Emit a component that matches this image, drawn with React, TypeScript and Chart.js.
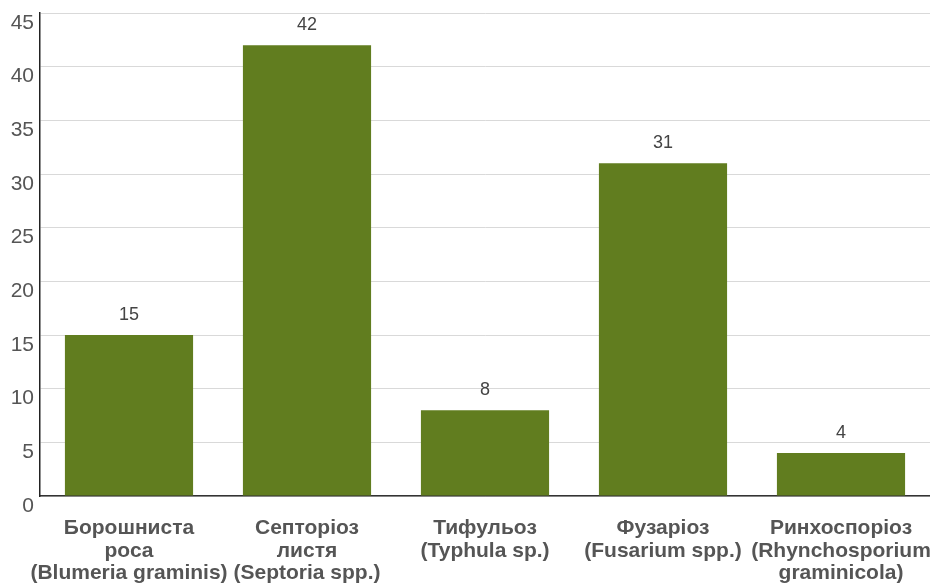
import React, { useEffect, useRef } from "react";
import { Chart, registerables } from "chart.js";

Chart.register(...registerables);

const categories: string[][] = [
  ["Борошниста", "роса", "(Blumeria graminis)"],
  ["Септоріоз", "листя", "(Septoria spp.)"],
  ["Тифульоз", "(Typhula sp.)"],
  ["Фузаріоз", "(Fusarium spp.)"],
  ["Ринхоспоріоз", "(Rhynchosporium", "graminicola)"],
];
const values: number[] = [15, 42, 8, 31, 4];
const yMax = 45;
const yStep = 5;

const FONT = '"Liberation Sans", Arial, sans-serif';

const valueLabels = {
  id: "valueLabels",
  afterDatasetsDraw(chart: any) {
    const ctx = chart.ctx;
    const meta = chart.getDatasetMeta(0);
    ctx.save();
    ctx.font = "18px " + FONT;
    ctx.fillStyle = "#444";
    ctx.textAlign = "center";
    ctx.textBaseline = "middle";
    meta.data.forEach((bar: any, i: number) => {
      ctx.fillText(String(chart.data.datasets[0].data[i]), bar.x, bar.y - 20);
    });
    ctx.restore();
  },
};

export default function App() {
  const ref = useRef<HTMLCanvasElement>(null);
  useEffect(() => {
    if (!ref.current) return;
    const chart = new Chart(ref.current, {
      type: "bar",
      data: {
        labels: categories,
        datasets: [
          {
            data: values,
            backgroundColor: "#617d1f",
            borderWidth: 0,
            barPercentage: 0.9,
            categoryPercentage: 0.8,
          },
        ],
      },
      options: {
        animation: false,
        responsive: false,
        maintainAspectRatio: false,
        layout: { padding: { top: 13, right: 0, left: 0, bottom: 0 } },
        plugins: { legend: { display: false }, tooltip: { enabled: false } },
        scales: {
          x: {
            grid: { display: false, drawTicks: false },
            border: { display: true, color: "#333", width: 1.5 },
            ticks: {
              color: "#555",
              font: { family: FONT, size: 21, weight: "bold", lineHeight: 1.08 },
              padding: 21,
              maxRotation: 0,
              autoSkip: false,
            },
            afterFit: (s: any) => {
              s.height = 87;
              s.paddingLeft = 0;
              s.paddingRight = 0;
            },
          },
          y: {
            min: 0,
            max: yMax,
            grid: { color: "#d9d9d9", drawTicks: false, lineWidth: 1 },
            border: { display: true, color: "#222", width: 1.5 },
            ticks: {
              stepSize: yStep,
              color: "#555",
              font: { family: FONT, size: 21 },
              padding: 6,
              labelOffset: 10,
            },
            afterFit: (s: any) => {
              s.width = 40;
              s.paddingTop = 0;
              s.paddingBottom = 0;
            },
          },
        },
      },
      plugins: [valueLabels],
    });
    return () => chart.destroy();
  }, []);
  return (
    <div style={{ position: "fixed", left: 0, top: 0, width: 930, height: 583, background: "#fff" }}>
      <canvas ref={ref} width={930} height={583} style={{ width: 930, height: 583 }} />
    </div>
  );
}
